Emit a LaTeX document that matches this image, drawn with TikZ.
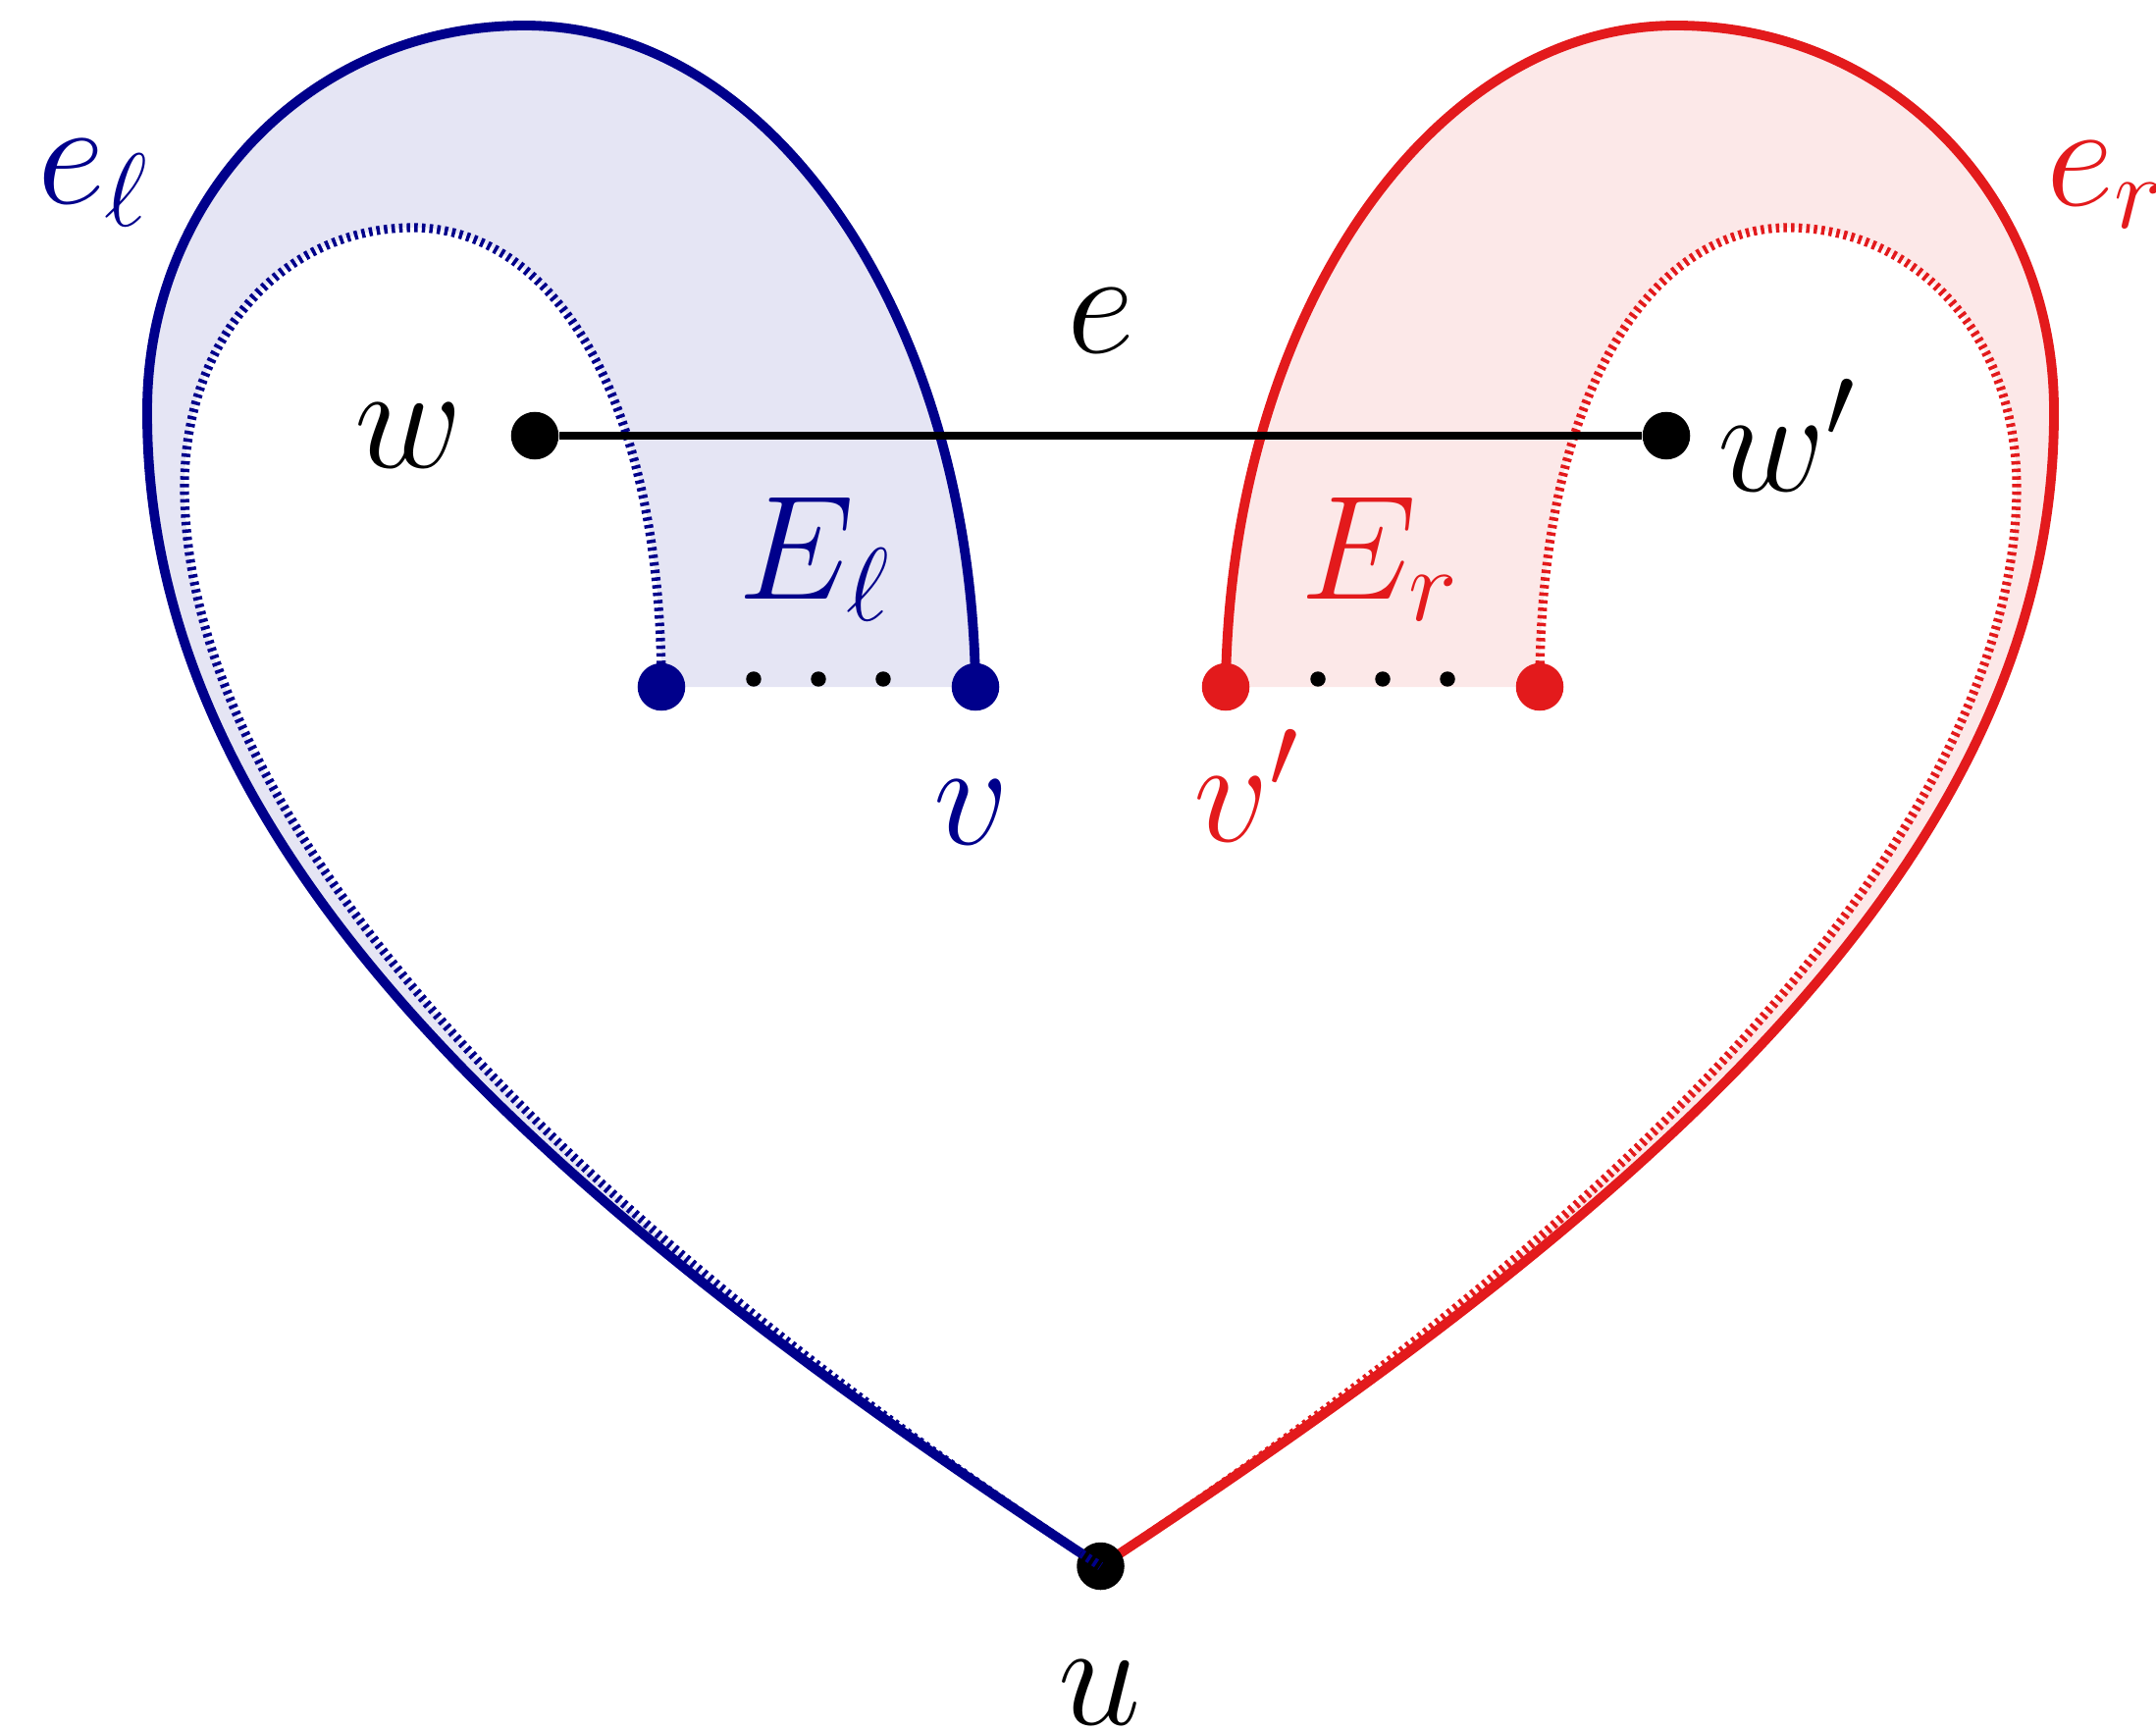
\documentclass[tikz,border=0pt]{standalone}
\usepackage{fix-cm}
\definecolor{navyc}{RGB}{0,0,139}
\definecolor{redc}{RGB}{227,26,28}
\tikzset{
  bigdot/.style={circle, fill, inner sep=0pt, minimum size=13.8pt},
  smalldot/.style={circle, fill=black, inner sep=0pt, minimum size=4.4pt},
  solidline/.style={line width=2.8pt},
  dotline/.style={line width=2.6pt, dash pattern=on 1pt off 1.2pt},
  lab/.style={inner sep=0pt, font=\fontsize{43}{50}\selectfont},
}
\begin{document}
\begin{tikzpicture}[x=0.01cm,y=-0.01cm]
\useasboundingbox (0,0) rectangle (2197,1764);
% positions
\coordinate (cu) at (1121.5,1596);
\coordinate (cv) at (994,700);
\coordinate (cl) at (674,700);
\coordinate (cvp) at (1249,700);
\coordinate (cr) at (1569,700);
\coordinate (cw) at (545,444);
\coordinate (cwp) at (1698,444);
% fills
\fill[navyc!10] (cu) .. controls (580,1240) and (148,880) .. (150,418)
  .. controls (150,200) and (318,26) .. (535,26)
  .. controls (790,26) and (990,330) .. (cv) -- (cl)
  .. controls (674,400) and (560,232) .. (421,232)
  .. controls (288,232) and (188,345) .. (188,496)
  .. controls (188,833) and (562,1228) .. (cu) -- cycle;
\fill[redc!10] (cu) .. controls (1663,1240) and (2095,880) .. (2093,418)
  .. controls (2093,200) and (1925,26) .. (1708,26)
  .. controls (1453,26) and (1253,330) .. (cvp) -- (cr)
  .. controls (1569,400) and (1683,232) .. (1822,232)
  .. controls (1955,232) and (2055,345) .. (2055,496)
  .. controls (2055,833) and (1681,1228) .. (cu) -- cycle;
% outer solid curves
\draw[solidline, navyc] (cu) .. controls (580,1240) and (148,880) .. (150,418)
  .. controls (150,200) and (318,26) .. (535,26)
  .. controls (790,26) and (990,330) .. (cv);
\draw[solidline, redc] (cu) .. controls (1663,1240) and (2095,880) .. (2093,418)
  .. controls (2093,200) and (1925,26) .. (1708,26)
  .. controls (1453,26) and (1253,330) .. (cvp);
% inner dotted curves
\draw[dotline, redc] (cr) .. controls (1569,400) and (1683,232) .. (1822,232)
  .. controls (1955,232) and (2055,345) .. (2055,496)
  .. controls (2055,833) and (1681,1228) .. (cu);
\node[bigdot, black] (u) at (cu) {};
\draw[dotline, navyc] (cl) .. controls (674,400) and (560,232) .. (421,232)
  .. controls (288,232) and (188,345) .. (188,496)
  .. controls (188,833) and (562,1228) .. (cu);
% vertices
\node[bigdot, black] (w) at (cw) {};
\node[bigdot, black] (wp) at (cwp) {};
\draw[line width=2.3pt] (w) -- (wp);
\node[bigdot, navyc] (v) at (cv) {};
\node[bigdot, navyc] (l) at (cl) {};
\node[bigdot, redc] (vp) at (cvp) {};
\node[bigdot, redc] (r) at (cr) {};
\node[smalldot] (d1) at (768,692) {};
\node[smalldot] (d2) at (834,692) {};
\node[smalldot] (d3) at (900,692) {};
\node[smalldot] (d4) at (1343,692) {};
\node[smalldot] (d5) at (1409,692) {};
\node[smalldot] (d6) at (1475,692) {};
% labels
\node[lab, anchor=base] (lw) at (416,477) {$w$};
\node[lab, anchor=base] (lwp) at (1821,500) {$w'$};
\node[lab, anchor=base] (le) at (1122,360) {$e$};
\node[lab, anchor=base, text=navyc] (lel) at (95,208) {$e_\ell$};
\node[lab, anchor=base west, text=redc] (ler) at (2085,210) {$e_r$};
\node[lab, anchor=base, text=navyc] (lEl) at (830,610) {$E_\ell$};
\node[lab, anchor=base, text=redc] (lEr) at (1406,610) {$E_r$};
\node[lab, anchor=base, text=navyc] (lv) at (990,860) {$v$};
\node[lab, anchor=base, text=redc] (lvp) at (1270,857) {$v'$};
\node[lab, anchor=base] (lu) at (1121,1757) {$u$};
\end{tikzpicture}
\end{document}
